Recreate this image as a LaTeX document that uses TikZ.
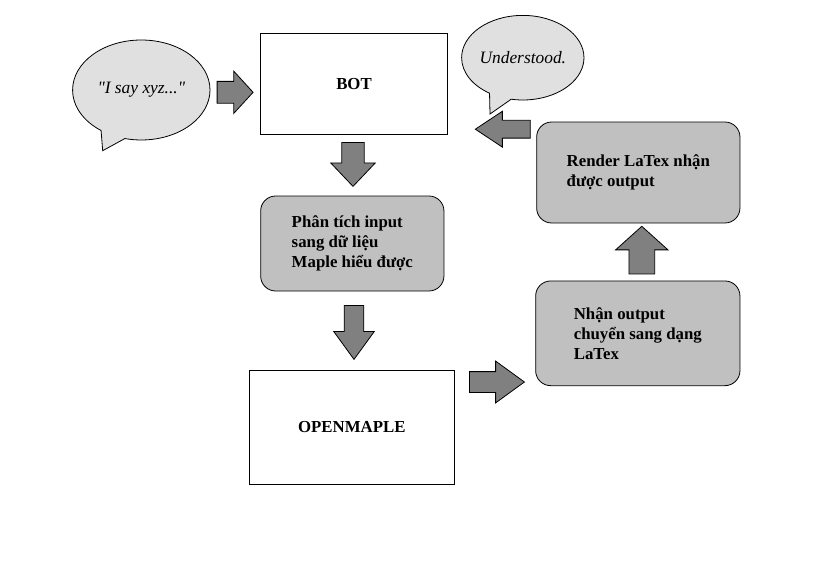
\documentclass[tikz,border=0pt]{standalone}
\usepackage{fontspec}
\setmainfont{Liberation Serif}[Ligatures=TeXOff]
\usetikzlibrary{shapes.arrows,shapes.callouts}
\definecolor{arrowgray}{HTML}{808080}
\definecolor{boxgray}{HTML}{C0C0C0}
\definecolor{bubblegray}{HTML}{E0E0E0}
\tikzset{
	plainbox/.style={draw,fill=white,line width=0.8pt,inner sep=0pt,font=\bfseries\fontsize{16.8}{20}\selectfont},
	roundbox/.style={plainbox,fill=boxgray,rounded corners=15pt,align=left},
	bubble/.style={ellipse callout,draw,fill=bubblegray,line width=0.8pt,inner sep=0pt,callout pointer arc=22,font=\itshape\fontsize{17.4}{20}\selectfont},
	blockarrow/.style={single arrow,draw,fill=arrowgray,line width=0.8pt,inner xsep=0pt,anchor=tail}
}

\begin{document}
\begin{tikzpicture}[x=1pt,y=-1pt]
	\useasboundingbox (0,0) rectangle (826,575);
	\node[plainbox,minimum width=187.4pt,minimum height=101pt] (bot) at (354,83.8) {BOT};
	\node[roundbox,minimum width=183.3pt,minimum height=95pt] (parse) at (352.3,243.5) {Phân tích input\\sang dữ liệu\\Maple hiểu được};
	\node[plainbox,minimum width=205pt,minimum height=114pt] (openmaple) at (351.8,427) {OPENMAPLE};
	\node[roundbox,minimum width=204.3pt,minimum height=104.7pt] (convert) at (637.8,333.3) {Nhận output\\chuyển sang dạng\\LaTex};
	\node[roundbox,minimum width=203.3pt,minimum height=101pt] (render) at (638.3,172.5) {Render LaTex nhận\\được output};
	\coordinate (saytip) at (102.7,150.7);
	\coordinate (replytip) at (490,114);
	\node[bubble,minimum width=137.4pt,minimum height=100pt,callout absolute pointer=(saytip)] (say) at (141.3,90) {"I say xyz..."};
	\node[bubble,minimum width=115.6pt,minimum height=84.6pt,callout absolute pointer=(replytip)] (reply) at (522.8,57.7) {Understood.};
	\node[blockarrow,inner ysep=10.5pt,minimum height=36pt,single arrow head extend=10.2pt,single arrow tip angle=95] (toBot) at (216.7,92.3) {};
	\node[blockarrow,rotate=-90,inner ysep=10.8pt,minimum height=44pt,single arrow head extend=11.1pt,single arrow tip angle=87] (toParse) at (353,142) {};
	\node[blockarrow,rotate=-90,inner ysep=9.4pt,minimum height=54pt,single arrow head extend=10.5pt,single arrow tip angle=72] (toMaple) at (354,305) {};
	\node[blockarrow,inner ysep=10pt,minimum height=55pt,single arrow head extend=10.5pt,single arrow tip angle=72] (toConvert) at (469,382) {};
	\node[blockarrow,rotate=90,inner ysep=12.5pt,minimum height=47.6pt,single arrow head extend=13.3pt,single arrow tip angle=96] (toRender) at (641.8,274.3) {};
	\node[blockarrow,rotate=180,inner ysep=8.5pt,minimum height=55pt,single arrow head extend=9pt,single arrow tip angle=67] (backBot) at (530.7,129.2) {};
\end{tikzpicture}
\end{document}
